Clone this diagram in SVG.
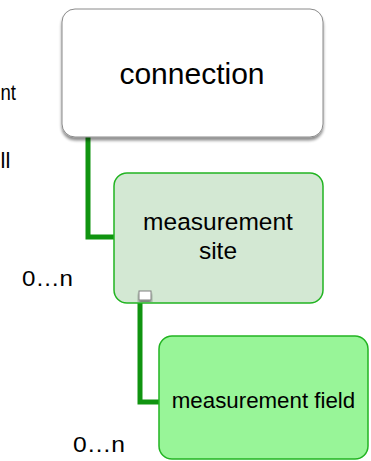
<svg xmlns="http://www.w3.org/2000/svg" width="371" height="461" viewBox="0 0 371 461">
<defs>
<filter id="sh" x="-10%" y="-10%" width="120%" height="130%">
<feGaussianBlur in="SourceAlpha" stdDeviation="1.5"/>
<feOffset dx="0" dy="2.5" result="b"/>
<feComponentTransfer><feFuncA type="linear" slope="0.45"/></feComponentTransfer>
<feMerge><feMergeNode/><feMergeNode in="SourceGraphic"/></feMerge>
</filter>
</defs>
<style>
text{font-family:"Liberation Sans",Arial,sans-serif;fill:#000}
.conn{fill:none;stroke:#109410;stroke-width:5}
.site{fill:#d3e8d3;stroke:#22b422;stroke-width:1.5}
.field{fill:#98f598;stroke:#22b422;stroke-width:1.5}
.lbl{font-size:22px}
</style>
<text class="lbl" x="0.5" y="100" textLength="15.5" lengthAdjust="spacingAndGlyphs">nt</text>
<text class="lbl" x="0.5" y="168">ll</text>
<text class="lbl" x="22" y="286" textLength="51" lengthAdjust="spacingAndGlyphs">0…n</text>
<text class="lbl" x="73" y="452" textLength="52" lengthAdjust="spacingAndGlyphs">0…n</text>
<g id="connectors">
<polyline class="conn" points="88,137 88,237 114,237"/>
<polyline class="conn" points="140,299 140,402 159,402"/>
</g>
<g id="connection">
<rect x="62" y="9" width="261" height="128" rx="13" fill="#fff" stroke="#8a8a8a" stroke-width="1" filter="url(#sh)"/>
<text x="192" y="84" font-size="30" text-anchor="middle">connection</text>
</g>
<g id="measurement-site">
<rect class="site" x="114" y="173" width="209" height="130" rx="13"/>
<text x="218" y="230" font-size="24.5" text-anchor="middle">measurement</text>
<text x="218" y="259" font-size="24.5" text-anchor="middle">site</text>
<rect x="139" y="291" width="12" height="9" fill="#fff" stroke="#808080" stroke-width="1" filter="url(#sh)"/>
</g>
<g id="measurement-field">
<rect class="field" x="159" y="336" width="209" height="123" rx="13"/>
<text x="263.5" y="408" font-size="22.3" text-anchor="middle">measurement field</text>
</g>
</svg>
